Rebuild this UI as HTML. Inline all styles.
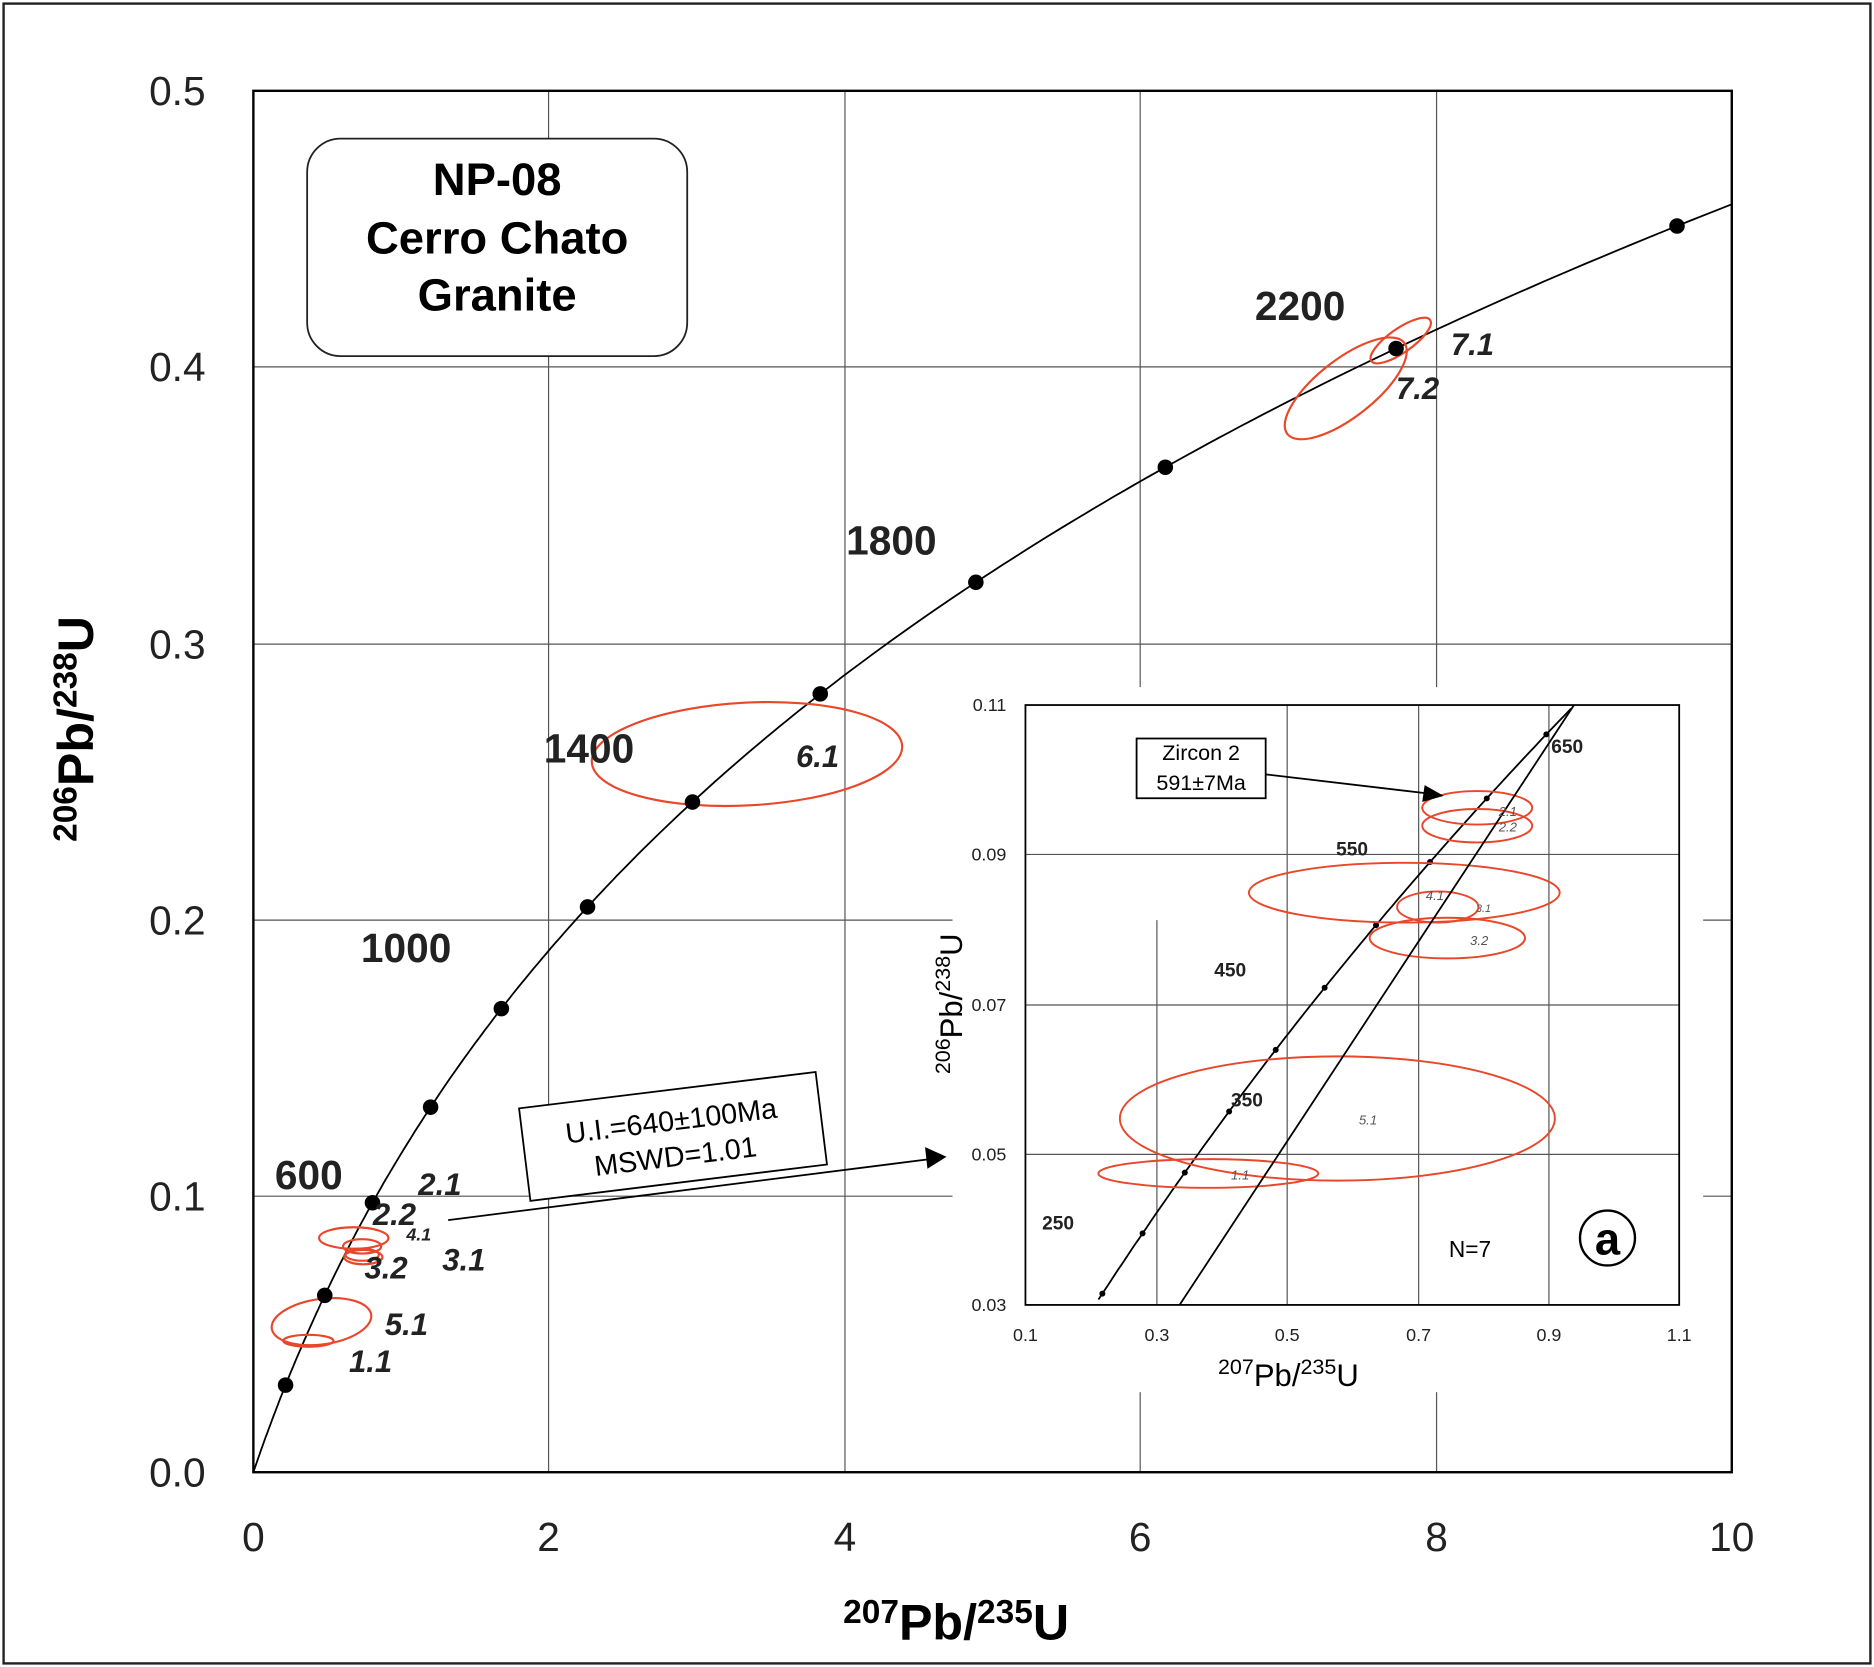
<!DOCTYPE html>
<html><head><meta charset="utf-8"><style>
html,body{margin:0;padding:0;background:#fff}
svg{display:block}
text{font-family:"Liberation Sans",Arial,sans-serif}
</style></head><body>
<svg id="s" width="1874" height="1667" viewBox="0 0 1568 1395" preserveAspectRatio="none" xmlns="http://www.w3.org/2000/svg">
<defs><clipPath id="cp"><rect x="212" y="76" width="1237" height="1156"/></clipPath></defs>
<rect x="3" y="3" width="1562" height="1389" fill="#fff" stroke="#222" stroke-width="2"/>
<g stroke="#555" stroke-width="1">
<line x1="459" y1="76" x2="459" y2="1232"/><line x1="707" y1="76" x2="707" y2="1232"/>
<line x1="954" y1="76" x2="954" y2="1232"/><line x1="1202" y1="76" x2="1202" y2="1232"/>
<line x1="212" y1="307" x2="1449" y2="307"/><line x1="212" y1="539" x2="1449" y2="539"/>
<line x1="212" y1="770" x2="1449" y2="770"/><line x1="212" y1="1001" x2="1449" y2="1001"/>
</g>
<rect x="212" y="76" width="1237" height="1156" fill="none" stroke="#000" stroke-width="2"/>
<g font-size="34" fill="#222" text-anchor="end">
<text x="172" y="88">0.5</text><text x="172" y="319">0.4</text><text x="172" y="551">0.3</text>
<text x="172" y="782">0.2</text><text x="172" y="1013">0.1</text><text x="172" y="1244">0.0</text></g>
<g font-size="34" fill="#222" text-anchor="middle">
<text x="212" y="1298">0</text><text x="459" y="1298">2</text><text x="707" y="1298">4</text>
<text x="954" y="1298">6</text><text x="1202" y="1298">8</text><text x="1449" y="1298">10</text></g>
<text x="800" y="1372" font-size="42" font-weight="bold" text-anchor="middle"><tspan font-size="28" dy="-14">207</tspan><tspan dy="14">Pb/</tspan><tspan font-size="28" dy="-14">235</tspan><tspan dy="14">U</tspan></text>
<text transform="translate(78,610) rotate(-90)" font-size="42" font-weight="bold" text-anchor="middle"><tspan font-size="28" dy="-14">206</tspan><tspan dy="14">Pb/</tspan><tspan font-size="28" dy="-14">238</tspan><tspan dy="14">U</tspan></text>
<rect x="257" y="116" width="318" height="182" rx="28" fill="#fff" stroke="#222" stroke-width="1.5"/>
<g font-size="38" font-weight="bold" text-anchor="middle"><text x="416" y="163">NP-08</text><text x="416" y="212">Cerro Chato</text><text x="416" y="260">Granite</text></g>
<g id="main"></g>
<g font-size="34" font-weight="bold" fill="#222">
<text x="1050" y="268">2200</text><text x="708" y="464">1800</text><text x="455" y="638">1400</text>
<text x="302" y="805">1000</text><text x="230" y="995">600</text></g>
<g font-size="26" font-weight="bold" font-style="italic" fill="#222">
<text x="1214" y="297">7.1</text><text x="1168" y="334">7.2</text><text x="666" y="642">6.1</text>
<text x="350" y="1000">2.1</text><text x="312" y="1025">2.2</text><text x="340" y="1038" font-size="15">4.1</text>
<text x="370" y="1063">3.1</text><text x="305" y="1070">3.2</text><text x="322" y="1117">5.1</text><text x="292" y="1148">1.1</text></g>
<g transform="rotate(-7 563 950)"><rect x="438" y="912" width="250" height="78" fill="#fff" stroke="#000" stroke-width="1.5"/>
<text x="563" y="946" font-size="24" text-anchor="middle">U.I.=640±100Ma</text><text x="563" y="976" font-size="24" text-anchor="middle">MSWD=1.01</text></g>
<line x1="375" y1="1021" x2="778" y2="970" stroke="#000" stroke-width="1.5"/>
<polygon points="792,968 774,960 776,978" fill="#000"/>
<rect x="797" y="575" width="628" height="590" fill="#fff"/>
<g stroke="#555" stroke-width="1">
<line x1="968" y1="770" x2="968" y2="1092"/><line x1="1077" y1="590" x2="1077" y2="1092"/>
<line x1="1187" y1="590" x2="1187" y2="1092"/><line x1="1296" y1="590" x2="1296" y2="1092"/>
<line x1="858" y1="715" x2="1405" y2="715"/><line x1="858" y1="841" x2="1405" y2="841"/>
<line x1="858" y1="966" x2="1405" y2="966"/>
</g>
<rect x="858" y="590" width="547" height="502" fill="none" stroke="#000" stroke-width="1.5"/>
<g font-size="15" fill="#222" text-anchor="end"><text x="842" y="595">0.11</text><text x="842" y="720">0.09</text><text x="842" y="846">0.07</text><text x="842" y="971">0.05</text><text x="842" y="1097">0.03</text></g>
<g font-size="15" fill="#222" text-anchor="middle"><text x="858" y="1122">0.1</text><text x="968" y="1122">0.3</text><text x="1077" y="1122">0.5</text><text x="1187" y="1122">0.7</text><text x="1296" y="1122">0.9</text><text x="1405" y="1122">1.1</text></g>
<text x="1078" y="1160" font-size="26" text-anchor="middle"><tspan font-size="18" dy="-10">207</tspan><tspan dy="10">Pb/</tspan><tspan font-size="18" dy="-10">235</tspan><tspan dy="10">U</tspan></text>
<text transform="translate(805,840) rotate(-90)" font-size="26" text-anchor="middle"><tspan font-size="18" dy="-10">206</tspan><tspan dy="10">Pb/</tspan><tspan font-size="18" dy="-10">238</tspan><tspan dy="10">U</tspan></text>
<g id="ins"></g>
<line x1="987" y1="1092" x2="1317" y2="590" stroke="#000" stroke-width="1.5"/>
<g font-size="16" font-weight="bold" fill="#222"><text x="1298" y="630">650</text><text x="1118" y="716">550</text><text x="1016" y="817">450</text><text x="1030" y="926">350</text><text x="872" y="1029">250</text></g>
<g font-size="11" font-style="italic" fill="#555"><text x="1254" y="683">2.1</text><text x="1254" y="696">2.2</text><text x="1193" y="753">4.1</text><text x="1235" y="763" font-size="9">3.1</text><text x="1230" y="791">3.2</text><text x="1137" y="941">5.1</text><text x="1030" y="987">1.1</text></g>
<rect x="951" y="618" width="108" height="50" fill="#fff" stroke="#000" stroke-width="1.5"/>
<text x="1005" y="636" font-size="18" text-anchor="middle">Zircon 2</text><text x="1005" y="661" font-size="18" text-anchor="middle">591±7Ma</text>
<line x1="1059" y1="648" x2="1195" y2="664" stroke="#000" stroke-width="1.5"/>
<polygon points="1208,666 1192,657 1190,671" fill="#000"/>
<text x="1230" y="1052" font-size="19" text-anchor="middle">N=7</text>
<circle cx="1345" cy="1036" r="23" fill="#fff" stroke="#000" stroke-width="2"/>
<text x="1345" y="1050" font-size="38" font-weight="bold" text-anchor="middle">a</text>
</svg>
<script>
var ns="http://www.w3.org/2000/svg";
function el(p,t,a){var e=document.createElementNS(ns,t);for(var k in a)e.setAttribute(k,a[k]);p.appendChild(e);return e;}
var l5=9.8485e-4,l8=1.55125e-4;
function X(t){return Math.exp(l5*t)-1}function Y(t){return Math.exp(l8*t)-1}
var m=document.getElementById("main");
function mx(x){return 212+x*123.7}function my(y){return 1232-y*2312}
var d="";for(var t=0;t<=2600;t+=10){var x=X(t),y=Y(t);d+=(t?"L":"M")+mx(x).toFixed(1)+" "+my(y).toFixed(1);if(x>10.2)break;}
el(m,"path",{d:d,fill:"none",stroke:"#000","stroke-width":1.5,"clip-path":"url(#cp)"});
var E=[[1126,325,62,24,-38],[1172,285,30,10,-35],[625,631,130,43,-3],[296,1036,29,9,0],[303,1043,16,6,0],[303,1050,14,5,0],[304,1052,16,6,0],[269,1106,42,19,-8],[258,1122,21,5,0]];
E.forEach(function(e){el(m,"ellipse",{cx:e[0],cy:e[1],rx:e[2],ry:e[3],transform:"rotate("+e[4]+" "+e[0]+" "+e[1]+")",fill:"none",stroke:"#e8472a","stroke-width":1.8});});
for(var t=200;t<=2400;t+=200)el(m,"circle",{cx:mx(X(t)),cy:my(Y(t)),r:6.5,fill:"#000"});
var g=document.getElementById("ins");
function ix(x){return 858+(x-0.1)*547}function iy(y){return 1092-(y-0.03)*6275}
d="";var f=1;for(var t=180;t<=700;t+=5){var x=X(t),y=Y(t);if(y>0.11)break;if(y<0.03)continue;d+=(f?"M":"L")+ix(x).toFixed(1)+" "+iy(y).toFixed(1);f=0;}
el(g,"path",{d:d,fill:"none",stroke:"#000","stroke-width":1.5});
for(var t=200;t<=700;t+=50){var y=Y(t);if(y<0.03||y>0.11)continue;el(g,"circle",{cx:ix(X(t)),cy:iy(Y(t)),r:2.5,fill:"#000"});}
var I=[[1236,676,46,14,0],[1236,691,46,14,0],[1175,747,130,25,0],[1203,759,34,13,0],[1211,785,65,17,0],[1119,936,182,52,0],[1011,982,92,12,0]];
I.forEach(function(e){el(g,"ellipse",{cx:e[0],cy:e[1],rx:e[2],ry:e[3],fill:"none",stroke:"#e8472a","stroke-width":1.6});});
</script>
</body></html>
